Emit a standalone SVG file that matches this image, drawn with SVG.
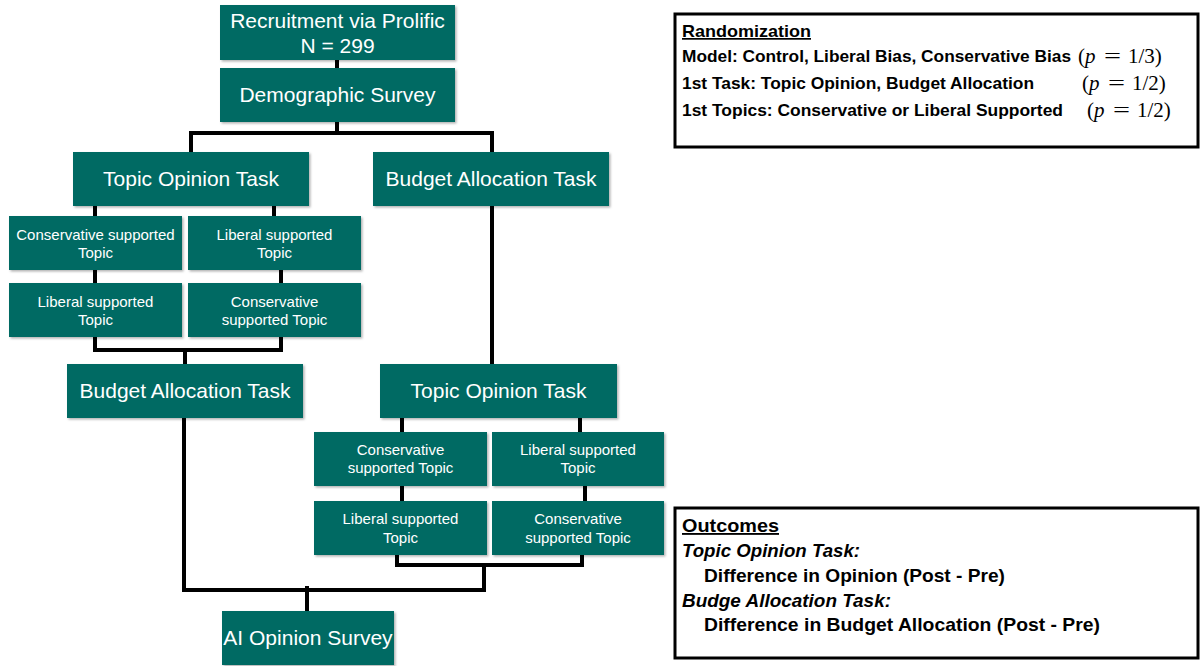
<svg xmlns="http://www.w3.org/2000/svg" width="1202" height="666" viewBox="0 0 1202 666">
<defs>
<filter id="sh" x="-5%" y="-5%" width="112%" height="120%">
<feDropShadow dx="1.5" dy="1.5" stdDeviation="1" flood-color="#000" flood-opacity="0.3"/>
</filter>
</defs>
<style>
.n rect{fill:#036b63;filter:url(#sh)}
.n text{fill:#fff;font-family:"Liberation Sans",Arial,sans-serif;text-anchor:middle}
.big{font-size:21px}
.sm{font-size:15px}
.c{stroke:#000;stroke-width:4;fill:none;stroke-linecap:square}
.box{fill:#fff;stroke:#000;stroke-width:3}
.t{font-family:"Liberation Sans",Arial,sans-serif;font-size:17px;font-weight:bold;fill:#000}
.o{font-size:18.5px}
.m{font-family:"Liberation Serif","Times New Roman",serif;font-size:21px;fill:#000}
</style>
<rect width="1202" height="666" fill="#fff"/>
<g id="connectors">
<path class="c" d="M337 60V68"/>
<path class="c" d="M337 122V133M191 152V133H492V152"/>
<path class="c" d="M95 206V216M274 206V216"/>
<path class="c" d="M95 270V283M281 270V283"/>
<path class="c" d="M95 337V350H281V337M185 350V364"/>
<path class="c" d="M492 206V364"/>
<path class="c" d="M402 418V432M580 418V432"/>
<path class="c" d="M402 486V501M585 486V501"/>
<path class="c" d="M397 555V565H582V555M484 565V590H184V418M307 588V611"/>
</g>
<g id="recruitment" class="n"><rect x="220" y="5" width="235" height="55"/><text class="big" x="337.5" y="28">Recruitment via Prolific</text><text class="big" x="337.5" y="53">N = 299</text></g>
<g id="demographic" class="n"><rect x="220" y="68" width="235" height="54"/><text class="big" x="337.5" y="102">Demographic Survey</text></g>
<g id="topic1" class="n"><rect x="73" y="152" width="236" height="54"/><text class="big" x="191" y="186">Topic Opinion Task</text></g>
<g id="budget1" class="n"><rect x="373" y="152" width="236" height="54"/><text class="big" x="491" y="186">Budget Allocation Task</text></g>
<g id="l_cons1" class="n"><rect x="9" y="216" width="173" height="54"/><text class="sm" x="95.5" y="240">Conservative supported</text><text class="sm" x="95.5" y="258">Topic</text></g>
<g id="l_lib1" class="n"><rect x="188" y="216" width="173" height="54"/><text class="sm" x="274.5" y="240">Liberal supported</text><text class="sm" x="274.5" y="258">Topic</text></g>
<g id="l_lib2" class="n"><rect x="9" y="283" width="173" height="54"/><text class="sm" x="95.5" y="307">Liberal supported</text><text class="sm" x="95.5" y="325">Topic</text></g>
<g id="l_cons2" class="n"><rect x="188" y="283" width="173" height="54"/><text class="sm" x="274.5" y="307">Conservative</text><text class="sm" x="274.5" y="325">supported Topic</text></g>
<g id="budget2" class="n"><rect x="67" y="364" width="236" height="54"/><text class="big" x="185" y="398">Budget Allocation Task</text></g>
<g id="topic2" class="n"><rect x="380" y="364" width="237" height="54"/><text class="big" x="498.5" y="398">Topic Opinion Task</text></g>
<g id="r_cons1" class="n"><rect x="314" y="432" width="173" height="54"/><text class="sm" x="400.5" y="455">Conservative</text><text class="sm" x="400.5" y="473">supported Topic</text></g>
<g id="r_lib1" class="n"><rect x="492" y="432" width="172" height="54"/><text class="sm" x="578" y="455">Liberal supported</text><text class="sm" x="578" y="473">Topic</text></g>
<g id="r_lib2" class="n"><rect x="314" y="501" width="173" height="54"/><text class="sm" x="400.5" y="524">Liberal supported</text><text class="sm" x="400.5" y="543">Topic</text></g>
<g id="r_cons2" class="n"><rect x="492" y="501" width="172" height="54"/><text class="sm" x="578" y="524">Conservative</text><text class="sm" x="578" y="543">supported Topic</text></g>
<g id="ai" class="n"><rect x="222" y="611" width="172" height="54"/><text x="308" y="645" style="font-size:21px">AI Opinion Survey</text></g>
<g id="randomization">
<rect class="box" x="675" y="14" width="523" height="133"/>
<text class="t" x="682" y="37" text-decoration="underline" textLength="129" lengthAdjust="spacingAndGlyphs">Randomization</text>
<text class="t" x="682" y="62" textLength="389" lengthAdjust="spacingAndGlyphs">Model: Control, Liberal Bias, Conservative Bias</text>
<text class="m" y="63"><tspan x="1078">(</tspan><tspan font-style="italic">p</tspan><tspan x="1104" textLength="17" lengthAdjust="spacingAndGlyphs">=</tspan><tspan x="1128">1/3)</tspan></text>
<text class="t" x="682" y="89" textLength="352" lengthAdjust="spacingAndGlyphs">1st Task: Topic Opinion, Budget Allocation</text>
<text class="m" y="90"><tspan x="1082">(</tspan><tspan font-style="italic">p</tspan><tspan x="1108" textLength="17" lengthAdjust="spacingAndGlyphs">=</tspan><tspan x="1132">1/2)</tspan></text>
<text class="t" x="682" y="116" textLength="381" lengthAdjust="spacingAndGlyphs">1st Topics: Conservative or Liberal Supported</text>
<text class="m" y="117"><tspan x="1087">(</tspan><tspan font-style="italic">p</tspan><tspan x="1113" textLength="17" lengthAdjust="spacingAndGlyphs">=</tspan><tspan x="1137">1/2)</tspan></text>
</g>
<g id="outcomes">
<rect class="box" x="675" y="508" width="523" height="150"/>
<text class="t o" x="682" y="532" text-decoration="underline" textLength="97" lengthAdjust="spacingAndGlyphs">Outcomes</text>
<text class="t o" x="682" y="557" font-style="italic" textLength="178" lengthAdjust="spacingAndGlyphs">Topic Opinion Task:</text>
<text class="t o" x="704" y="582" textLength="301" lengthAdjust="spacingAndGlyphs">Difference in Opinion (Post - Pre)</text>
<text class="t o" x="682" y="607" font-style="italic" textLength="209" lengthAdjust="spacingAndGlyphs">Budge Allocation Task:</text>
<text class="t o" x="704" y="631" textLength="396" lengthAdjust="spacingAndGlyphs">Difference in Budget Allocation (Post - Pre)</text>
</g>
</svg>
